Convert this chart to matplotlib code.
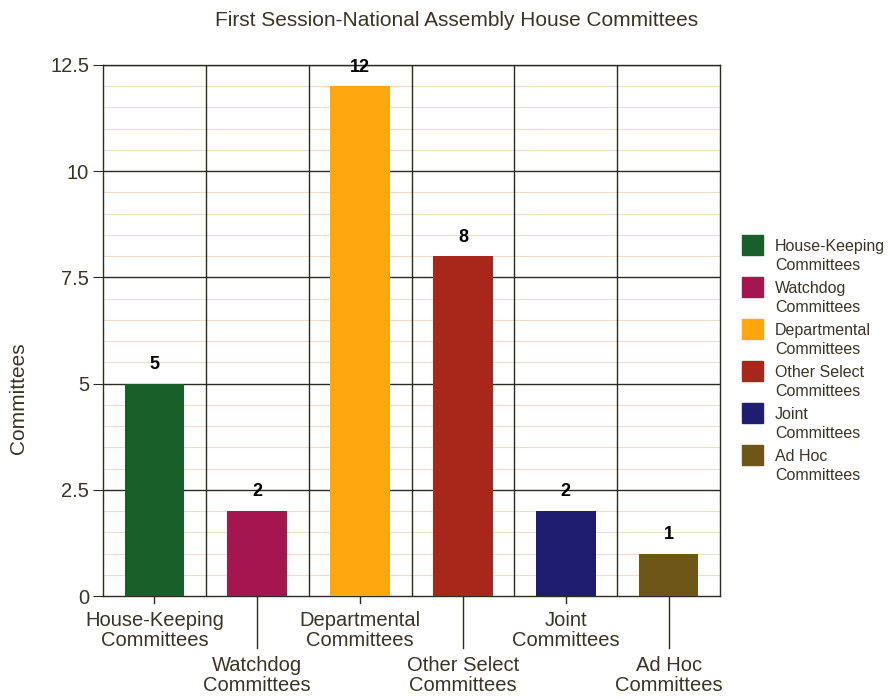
import matplotlib.pyplot as plt
import numpy as np
from matplotlib.patches import Rectangle

plt.rcParams["font.family"] = ["Liberation Sans", "DejaVu Sans"]

categories = ["House-Keeping\nCommittees", "Watchdog\nCommittees", "Departmental\nCommittees",
              "Other Select\nCommittees", "Joint\nCommittees", "Ad Hoc\nCommittees"]
counts = [5, 2, 12, 8, 2, 1]
colors = ["#17602a", "#a5154f", "#ffa70f", "#a8261a", "#1f1d70", "#6e5518"]

text_color = "#3b3326"
line_color = "#2b2b22"
W, H = 893, 699

fig = plt.figure(figsize=(8.93, 6.99), dpi=100)
ax = fig.add_axes([103 / W, 1 - 596 / H, 617 / W, 531 / H])

x = np.arange(len(categories))
ax.bar(x, counts, width=0.58, color=colors, zorder=3)

for xi, c in zip(x, counts):
    ax.text(xi, c + 0.25, str(c), ha="center", va="bottom", fontsize=13,
            fontweight="bold", color="black", zorder=4)

ax.set_xlim(-0.5, len(categories) - 0.5)
ax.set_ylim(0, 12.5)

# gridlines: faint every 0.5, dark every 2.5, dark between categories
for y in np.arange(0.5, 12.5, 0.5):
    if abs(y / 2.5 - round(y / 2.5)) > 1e-6:
        ax.axhline(y, color="#efdcc6", lw=0.8, zorder=1)
for y in np.arange(2.5, 12.6, 2.5):
    ax.axhline(y, color=line_color, lw=1.0, zorder=2)
for b in np.arange(0.5, len(categories) - 0.5, 1):
    ax.axvline(b, color=line_color, lw=1.0, zorder=2)

for s in ["left", "right", "top", "bottom"]:
    ax.spines[s].set_color(line_color)
    ax.spines[s].set_linewidth(1.0)

ax.set_yticks(np.arange(0, 12.6, 2.5))
ax.set_yticklabels(["0", "2.5", "5", "7.5", "10", "12.5"])
ax.tick_params(axis="y", length=7, color=line_color, labelsize=14.5, labelcolor=text_color, pad=3)

# staggered category labels
ax.set_xticks(x)
ax.set_xticklabels([])
ax.tick_params(axis="x", length=0)
for i, lab in enumerate(categories):
    if i % 2 == 0:
        tick_end, text_top = -0.17, -0.36
    else:
        tick_end, text_top = -1.22, -1.42
    ax.plot([i, i], [0, tick_end], color=line_color, lw=1.0, clip_on=False)
    ax.text(i, text_top, lab, ha="center", va="top", fontsize=14.5, color=text_color,
            linespacing=1.05)

fig.text(457 / W, 1 - 20 / H, "First Session-National Assembly House Committees",
         ha="center", va="center", fontsize=15, color=text_color)
fig.text(19 / W, 1 - 398 / H, "Committees", ha="center", va="center", rotation=90,
         fontsize=15, color=text_color)

# legend
for k, (lab, c) in enumerate(zip(categories, colors)):
    top = 235 + 42 * k
    fig.patches.append(Rectangle((742 / W, 1 - (top + 20) / H), 21 / W, 20 / H,
                                 transform=fig.transFigure, facecolor=c, edgecolor=c))
    fig.text(775 / W, 1 - (top + 4) / H, lab, ha="left", va="top", fontsize=11.5,
             color=text_color, linespacing=1.35)

fig.savefig("out.png", dpi=100)
